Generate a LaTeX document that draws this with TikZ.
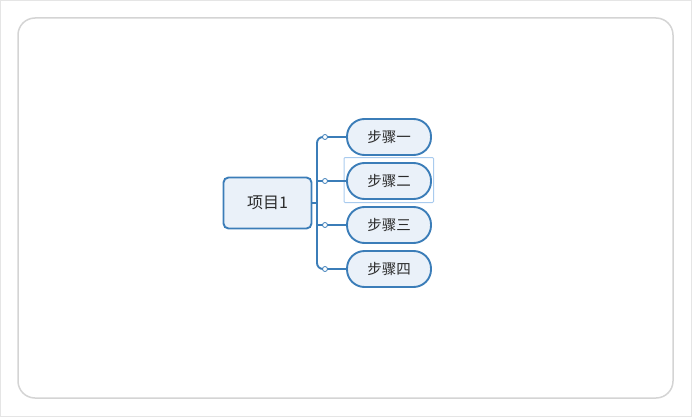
\documentclass[tikz,border=0pt]{standalone}
\usepackage{fontspec}
\newfontfamily\cjk{Noto Sans CJK SC}
\definecolor{edge}{HTML}{3B7DB8}
\definecolor{fillb}{HTML}{EAF1F9}
\definecolor{frame}{HTML}{D4D4D4}
\definecolor{sel}{HTML}{A9CBEE}
\definecolor{txt}{HTML}{2B2B2B}
\tikzset{
  rootbox/.style={draw=edge, fill=fillb, line width=1.9pt, rounded corners=5pt, minimum width=88pt, minimum height=51pt, text=txt, font=\cjk\fontsize{16}{18}\selectfont, inner sep=0pt},
  childbox/.style={draw=edge, fill=fillb, line width=1.9pt, rounded corners=17.5pt, minimum width=84pt, minimum height=36pt, text=txt, font=\cjk\fontsize{14.5}{16}\selectfont, inner sep=0pt},
  conn/.style={draw=edge, line width=1.9pt},
  knob/.style={circle, draw=edge, fill=white, line width=0.8pt, minimum size=5pt, inner sep=0pt},
}
\begin{document}
\begin{tikzpicture}[x=1pt,y=-1pt]
\useasboundingbox (0,0) rectangle (692,417);
\draw[frame!60, line width=1pt] (0.5,0.5) rectangle (691.5,416.5);
\draw[frame, line width=1.5pt, rounded corners=17pt] (18,18) rectangle (673,398);
\node[rootbox] (root) at (267.5,203) {项目1};
\node[childbox] (c1) at (389,137) {步骤一};
\node[childbox] (c2) at (389,181) {步骤二};
\node[childbox] (c3) at (389,225) {步骤三};
\node[childbox] (c4) at (389,269) {步骤四};
\draw[sel, line width=1pt, rounded corners=1pt] (344,157.5) rectangle (433.5,202.5);
\coordinate (j) at (317,203);
\draw[conn] (root.east) -- (j);
\draw[conn, rounded corners=6pt] (c1.west) -- (317,137) -- (j);
\draw[conn, rounded corners=6pt] (c4.west) -- (317,269) -- (j);
\draw[conn] (c2.west) -- (317,181);
\draw[conn] (c3.west) -- (317,225);
\node[knob] at (325,137) {};
\node[knob] at (325,181) {};
\node[knob] at (325,225) {};
\node[knob] at (325,269) {};
\end{tikzpicture}
\end{document}
